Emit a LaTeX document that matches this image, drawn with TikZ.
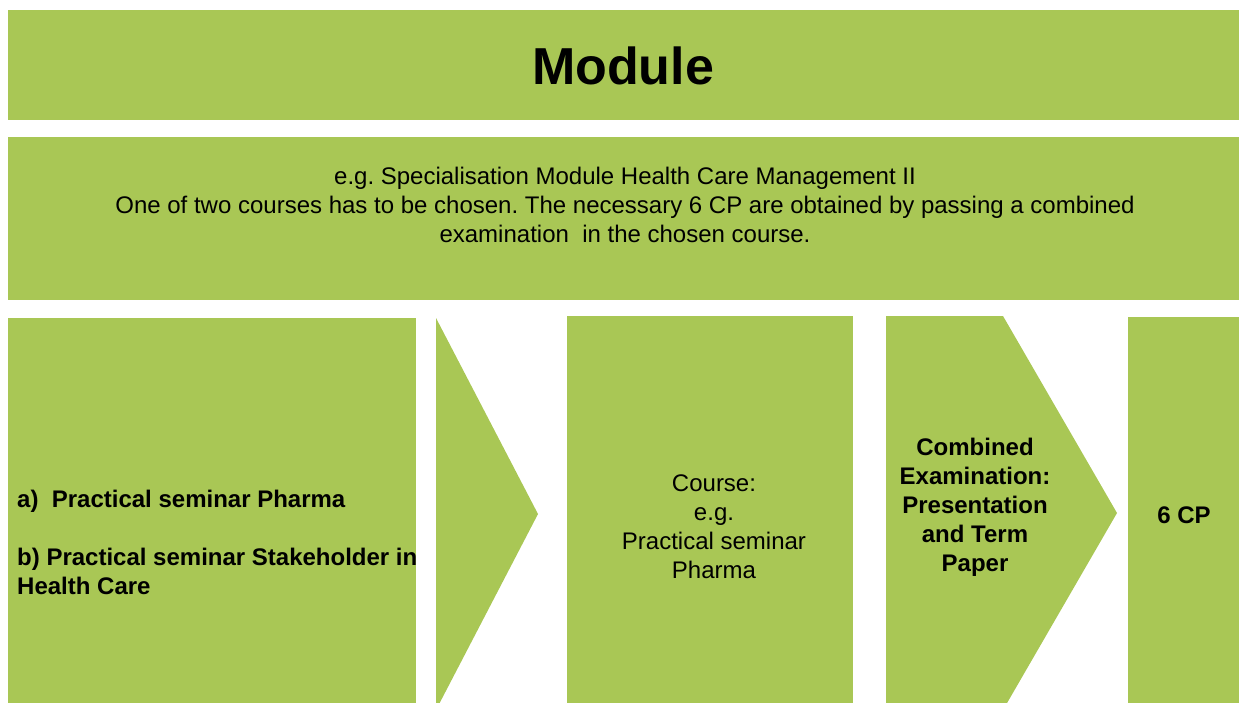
\documentclass[tikz,border=0pt]{standalone}
\usepackage{fontspec}
\setmainfont{Liberation Sans}
\frenchspacing
\definecolor{leaf}{RGB}{169,199,85}
\newcommand\mytab[2]{\begin{tabular}[t]{@{}#1@{}}#2\end{tabular}}
\begin{document}
\begin{tikzpicture}[x=1pt,y=-1pt,
  panel/.style={fill=leaf,draw=none},
  body/.style={font=\fontsize{24}{29}\selectfont\frenchspacing,inner sep=0pt,anchor=base,text=black},
  strong/.style={body,font=\fontsize{24}{29}\selectfont\bfseries\frenchspacing}]
\useasboundingbox (0,0) rectangle (1239,702);
\begin{scope}
\clip (0,0) rectangle (1239,702);
% top bars
\fill[panel] (8,10) rectangle (1239,120);
\fill[panel] (8,137) rectangle (1239,300);
% bottom row
\fill[panel] (8,318) rectangle (416,710);
\fill[panel] (436,318) -- (538,514) -- (436,710) -- cycle;
\fill[panel] (567,316) rectangle (853,710);
\fill[panel] (886,316) -- (1003,316) -- (1117,513) -- (1003,710) -- (886,710) -- cycle;
\fill[panel] (1128,317) rectangle (1239,710);
\end{scope}
% texts
\node[inner sep=0pt,anchor=base,font=\fontsize{52}{60}\selectfont\bfseries] (title) at (623,84) {Module};
\node[body] (desc) at (625,184) {\mytab{c}{e.g. Specialisation Module Health Care Management II\\
One of two courses has to be chosen. The necessary 6 CP are obtained by passing a combined\\
examination\ \ in the chosen course.}};
\node[strong,anchor=base west] (courses) at (17,507) {\mytab{l}{a)\ \ Practical seminar Pharma\\ \\
b) Practical seminar Stakeholder in\\ Health Care}};
\node[body] (course) at (714,491) {\mytab{c}{Course:\\ e.g.\\ Practical seminar\\ Pharma}};
\node[strong] (exam) at (975,455) {\mytab{c}{Combined\\ Examination:\\ Presentation\\ and Term\\ Paper}};
\node[strong] (cp) at (1184,523) {6 CP};
\end{tikzpicture}
\end{document}
